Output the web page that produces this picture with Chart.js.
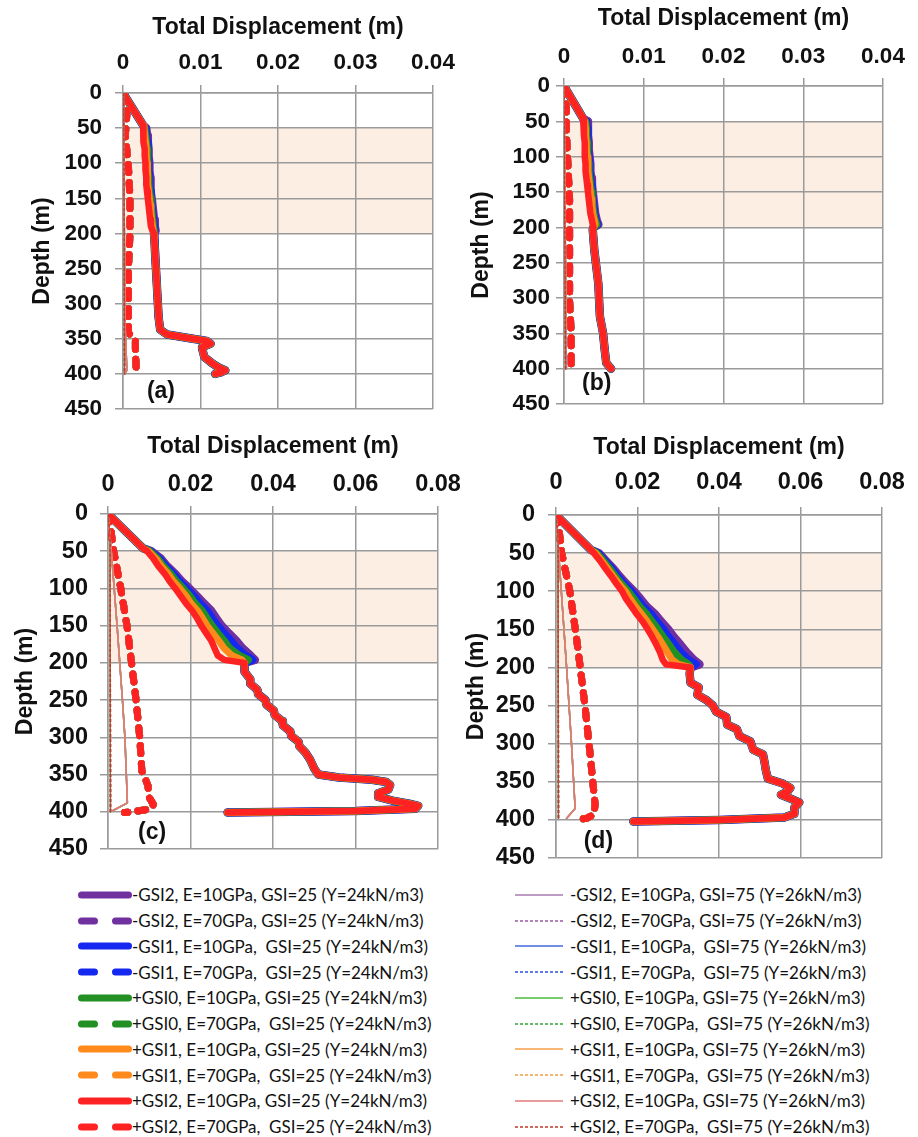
<!DOCTYPE html>
<html>
<head>
<meta charset="utf-8">
<script src="https://cdn.jsdelivr.net/npm/chart.js@4.4.0/dist/chart.umd.min.js"></script>
<style>
body{margin:0;background:#fff;width:918px;height:1137px;position:relative;overflow:hidden}
canvas{position:absolute}
.leg{position:absolute;font-family:Lato,"Open Sans",sans-serif;font-size:17px;color:#111}
.row{display:flex;align-items:center;height:25.75px;white-space:pre}
.row svg{flex:none}
</style>
</head>
<body>
<canvas id="pa" width="460" height="425" style="left:0;top:0"></canvas>
<canvas id="pb" width="458" height="425" style="left:460px;top:0"></canvas>
<canvas id="pc" width="460" height="440" style="left:0;top:430px"></canvas>
<canvas id="pd" width="458" height="440" style="left:460px;top:430px"></canvas>
<div class="leg" id="leg25" style="left:76px;top:882px"></div>
<div class="leg" id="leg75" style="left:515px;top:882px"></div>
<script>
// legend text, both columns
const labels25 = [
  '-GSI2, E=10GPa, GSI=25 (Y=24kN/m3)',
  '-GSI2, E=70GPa, GSI=25 (Y=24kN/m3)',
  '-GSI1, E=10GPa,  GSI=25 (Y=24kN/m3)',
  '-GSI1, E=70GPa,  GSI=25 (Y=24kN/m3)',
  '+GSI0, E=10GPa, GSI=25 (Y=24kN/m3)',
  '+GSI0, E=70GPa,  GSI=25 (Y=24kN/m3)',
  '+GSI1, E=10GPa, GSI=25 (Y=24kN/m3)',
  '+GSI1, E=70GPa,  GSI=25 (Y=24kN/m3)',
  '+GSI2, E=10GPa, GSI=25 (Y=24kN/m3)',
  '+GSI2, E=70GPa,  GSI=25 (Y=24kN/m3)'
];
const labels75 = [
  '-GSI2, E=10GPa, GSI=75 (Y=26kN/m3)',
  '-GSI2, E=70GPa, GSI=75 (Y=26kN/m3)',
  '-GSI1, E=10GPa,  GSI=75 (Y=26kN/m3)',
  '-GSI1, E=70GPa,  GSI=75 (Y=26kN/m3)',
  '+GSI0, E=10GPa, GSI=75 (Y=26kN/m3)',
  '+GSI0, E=70GPa,  GSI=75 (Y=26kN/m3)',
  '+GSI1, E=10GPa, GSI=75 (Y=26kN/m3)',
  '+GSI1, E=70GPa,  GSI=75 (Y=26kN/m3)',
  '+GSI2, E=10GPa, GSI=75 (Y=26kN/m3)',
  '+GSI2, E=70GPa,  GSI=75 (Y=26kN/m3)'
];
const colors25 = ['#7030a0', '#1428f0', '#239023', '#ff8a1c', '#ff2222'];
const colors75 = ['#a77bb0', '#9b59a5', '#4169e1', '#2a4fe0', '#4cbb3c', '#2fa82f', '#f5a04a', '#f0a040', '#e07a7a', '#c0392b'];
const thickW = [8.5, 8, 7.5, 7, 6.5];

const xTitle = 'Total Displacement (m)';
const yTitle = 'Depth (m)';
const bandFrom = 50, bandTo = 200;
// depths shared by the spread-out part of the E=10GPa, GSI=25 curves
const bandDepth = [50,60,70,80,90,100,110,120,130,140,150,160,170,180,190,196];

// ---- (a)
const aTopD = [0, 46], aTopX = [0, 0.0026];
const aBandPurple = [0.0030,0.0031,0.0032,0.0033,0.0033,0.0034,0.0034,0.0035,0.0035,0.0036,0.0037,0.0038,0.0039,0.0040,0.0041,0.0042];
const aBandBlue   = [0.0029,0.0030,0.0031,0.0032,0.0032,0.0033,0.0033,0.0034,0.0034,0.0035,0.0036,0.0037,0.0038,0.0039,0.0040,0.0041];
const aBandGreen  = [0.0028,0.0029,0.0030,0.0031,0.0031,0.0032,0.0032,0.0033,0.0033,0.0034,0.0035,0.0036,0.0037,0.0038,0.0039,0.0040];
const aBandOrange = [0.0027,0.0028,0.0029,0.0030,0.0030,0.0031,0.0031,0.0032,0.0032,0.0033,0.0034,0.0035,0.0036,0.0037,0.0038,0.0039];
const aBandRed    = [0.0026,0.0026,0.0027,0.0028,0.0028,0.0029,0.0029,0.0030,0.0030,0.0031,0.0032,0.0033,0.0034,0.0035,0.0036,0.0038];
const aLowD = [200,240,280,320,337,344,350,353,357,362,368,376,384,390,395,398,400];
const aLowX = [0.0040,0.0042,0.0044,0.0046,0.0048,0.0057,0.0090,0.0108,0.0113,0.0102,0.0103,0.0105,0.0114,0.0122,0.0132,0.0126,0.0119];
const aDashD = [0,30,60,105,150,200,250,300,342,350,370,390,400];
const aDashX = [0.0001,0.0005,0.0003,0.0007,0.0009,0.0009,0.0007,0.0007,0.0007,0.0016,0.0016,0.0017,0.0015];
const aThinD = [0,340,395,400], aThinX = [0,0.0003,0.0005,0.0002];
const aDotD = [0,400], aDotX = [0.0001,0.0002];

// ---- (b)
const bTopD = [0, 46], bTopX = [0, 0.0024];
const bBandPurple = [0.0029,0.0030,0.0030,0.0031,0.0031,0.0032,0.0033,0.0033,0.0034,0.0035,0.0036,0.0037,0.0038,0.0039,0.0041,0.0043];
const bBandBlue   = [0.0028,0.0029,0.0029,0.0030,0.0030,0.0031,0.0032,0.0032,0.0033,0.0034,0.0035,0.0036,0.0037,0.0038,0.0040,0.0042];
const bBandGreen  = [0.0027,0.0028,0.0028,0.0029,0.0029,0.0030,0.0031,0.0031,0.0032,0.0033,0.0034,0.0035,0.0036,0.0037,0.0039,0.0041];
const bBandOrange = [0.0026,0.0027,0.0027,0.0028,0.0028,0.0029,0.0030,0.0030,0.0031,0.0032,0.0033,0.0034,0.0035,0.0036,0.0038,0.0039];
const bBandRed    = [0.0025,0.0025,0.0025,0.0026,0.0026,0.0026,0.0027,0.0027,0.0028,0.0029,0.0030,0.0031,0.0032,0.0033,0.0035,0.0036];
const bLowD = [200,203,232,279,326,350,373,392,400];
const bLowX = [0.0037,0.0036,0.0038,0.0043,0.0045,0.0049,0.0051,0.0053,0.0059];
const bDashD = [0,34,67,114,161,208,255,303,350,396,400];
const bDashX = [0.0001,0.0003,0.0003,0.0005,0.0007,0.0007,0.0007,0.0007,0.0009,0.0009,0.0007];
const bThinD = [0,400], bThinX = [0,0.0003];
const bDotD = [0,400], bDotX = [0,0.0002];

// ---- (c)
const cTopD = [0, 46], cTopX = [0, 0.0085];
const cBandPurple = [0.0105,0.0128,0.0143,0.0162,0.0178,0.0197,0.0215,0.0232,0.0250,0.0262,0.0275,0.0292,0.0310,0.0325,0.0345,0.0356];
const cBandBlue   = [0.0103,0.0124,0.0139,0.0157,0.0172,0.0190,0.0207,0.0222,0.0240,0.0252,0.0265,0.0280,0.0297,0.0312,0.0333,0.0350];
const cBandGreen  = [0.0101,0.0120,0.0134,0.0151,0.0165,0.0182,0.0198,0.0211,0.0228,0.0240,0.0252,0.0266,0.0281,0.0294,0.0318,0.0340];
const cBandOrange = [0.0098,0.0116,0.0129,0.0145,0.0158,0.0174,0.0189,0.0201,0.0217,0.0229,0.0240,0.0254,0.0268,0.0281,0.0300,0.0325];
const cBandRed    = [0.0095,0.0110,0.0122,0.0137,0.0149,0.0163,0.0176,0.0189,0.0204,0.0216,0.0226,0.0238,0.0250,0.0258,0.0266,0.0282];
const cLowD = [200,212,222,228,236,242,250,256,264,270,278,284,292,298,306,312,320,330,342,350,354,357,360,364,370,375,380,385,389,392,396,399,401];
const cLowX = [0.0330,0.0331,0.0345,0.0345,0.0362,0.0364,0.0382,0.0384,0.0402,0.0404,0.0422,0.0424,0.0442,0.0444,0.0462,0.0464,0.0478,0.0490,0.0500,0.0510,0.0560,0.0640,0.0675,0.0684,0.0680,0.0655,0.0655,0.0690,0.0730,0.0752,0.0745,0.0600,0.0290];
const cDashD = [0,25,45,100,150,195,250,300,345,355,365,380,390,396,400,401];
const cDashX = [0,0.0008,0.0012,0.0031,0.0046,0.0056,0.0068,0.0077,0.0082,0.0090,0.0097,0.0099,0.0110,0.0105,0.0060,0.0040];
const cThinD = [0,50,150,250,300,388,399], cThinX = [0,0.0008,0.0022,0.0035,0.0041,0.0047,0.0010];
const cDotD = [0,30,400], cDotX = [0,0.0005,0.0006];

// ---- (d)
const dTopD = [0, 46], dTopX = [0, 0.0086];
const dBandPurple = [0.0105,0.0122,0.0140,0.0155,0.0172,0.0191,0.0207,0.0222,0.0243,0.0258,0.0275,0.0289,0.0305,0.0320,0.0338,0.0352];
const dBandBlue   = [0.0103,0.0119,0.0136,0.0150,0.0166,0.0184,0.0199,0.0213,0.0233,0.0247,0.0263,0.0276,0.0291,0.0305,0.0325,0.0343];
const dBandGreen  = [0.0100,0.0116,0.0131,0.0145,0.0160,0.0177,0.0191,0.0205,0.0222,0.0236,0.0250,0.0263,0.0277,0.0290,0.0308,0.0325];
const dBandOrange = [0.0097,0.0112,0.0126,0.0140,0.0154,0.0170,0.0182,0.0195,0.0210,0.0224,0.0237,0.0250,0.0262,0.0273,0.0285,0.0300];
const dBandRed    = [0.0093,0.0108,0.0121,0.0135,0.0148,0.0162,0.0172,0.0185,0.0198,0.0213,0.0225,0.0236,0.0246,0.0255,0.0262,0.0270];
const dLowD = [200,208,220,226,236,243,250,258,265,275,281,290,297,308,314,325,335,346,352,358,363,367,372,377,384,392,397,400,402];
const dLowX = [0.0330,0.0328,0.0330,0.0350,0.0347,0.0370,0.0385,0.0393,0.0418,0.0420,0.0444,0.0450,0.0477,0.0484,0.0508,0.0512,0.0515,0.0520,0.0555,0.0575,0.0568,0.0552,0.0575,0.0597,0.0585,0.0585,0.0560,0.0400,0.0190];
const dDashD = [0,22,50,100,160,198,250,315,359,380,393,398,400];
const dDashX = [0,0.0008,0.0014,0.0034,0.0050,0.0059,0.0071,0.0084,0.0092,0.0096,0.0093,0.0075,0.0043];
const dThinD = [0,100,200,300,385,398], dThinX = [0,0.0013,0.0026,0.0038,0.0047,0.0026];
const dDotD = [0,30,400], dDotX = [0,0.0005,0.0006];

function pts(d, x) {
  return d.map((v, i) => ({ x: x[i], y: v }));
}

function mkSets(topD, topX, band, lowD, lowX, dashD, dashX, thinD, thinX, dotD, dotX) {
  let out = [];
  for (let i = 0; i < 5; i++) {
    out.push({
      label: labels25[2 * i],
      data: pts(topD.concat(bandDepth, lowD), topX.concat(band[i], lowX)),
      borderColor: colors25[i], borderWidth: thickW[i]
    });
    out.push({
      label: labels25[2 * i + 1],
      data: pts(dashD, dashX),
      borderColor: colors25[i], borderWidth: 7, borderDash: [8, 10]
    });
  }
  for (let i = 0; i < 5; i++) {
    out.push({
      label: labels75[2 * i],
      data: pts(thinD, thinX),
      borderColor: colors75[2 * i], borderWidth: 1.5
    });
    out.push({
      label: labels75[2 * i + 1],
      data: pts(dotD, dotX),
      borderColor: colors75[2 * i + 1], borderWidth: 1.5, borderDash: [3, 2]
    });
  }
  out.forEach((s, i) => {
    s.order = 100 - i;
    s.showLine = true;
    s.pointRadius = 0;
    s.borderCapStyle = 'round';
    s.borderJoinStyle = 'round';
    s.fill = false;
  });
  return out;
}

// shaded zone 50-200 m under the grid, and the (a)..(d) tag
const zonePlugin = {
  id: 'zone',
  beforeDraw(chart) {
    const { ctx, chartArea: a, scales } = chart;
    const y1 = scales.y.getPixelForValue(bandFrom), y2 = scales.y.getPixelForValue(bandTo);
    ctx.save();
    ctx.fillStyle = '#fdeee4';
    ctx.fillRect(a.left, y1, a.right - a.left, y2 - y1);
    ctx.restore();
  },
  afterDraw(chart, args, opts) {
    const { ctx, scales } = chart;
    ctx.save();
    ctx.font = "bold 23px 'Liberation Sans', Arial, sans-serif";
    ctx.fillStyle = '#111';
    ctx.textAlign = 'center';
    ctx.textBaseline = 'middle';
    ctx.fillText(opts.tag, scales.x.getPixelForValue(opts.tx), scales.y.getPixelForValue(opts.ty));
    ctx.restore();
  }
};

Chart.defaults.font.family = "'Liberation Sans', Arial, sans-serif";
Chart.defaults.color = '#111';

function mkPanel(id, sets, p) {
  const gridClr = '#9a9a9a';
  return new Chart(document.getElementById(id), {
    type: 'scatter',
    data: { datasets: sets },
    options: {
      responsive: false,
      animation: false,
      devicePixelRatio: 1,
      layout: { padding: { left: 0, top: 0, right: p.padR, bottom: p.padB } },
      plugins: {
        legend: { display: false },
        tooltip: { enabled: false },
        zone: { tag: p.tag, tx: p.tx, ty: p.ty }
      },
      scales: {
        x: {
          type: 'linear', position: 'top', min: 0, max: p.xMax,
          ticks: { stepSize: p.xStep, padding: p.xTickPad, font: { size: p.tickSize, weight: 'bold' },
            callback: v => v === 0 ? '0' : v.toFixed(2) },
          grid: { color: gridClr, lineWidth: 1.5, tickLength: 8, tickColor: gridClr },
          border: { color: gridClr, width: 1.5 },
          title: { display: true, text: xTitle, font: { size: 23, weight: 'bold' }, padding: { top: p.xTitlePad, bottom: 0 } },
          afterFit: s => { s.height = p.xAxisH; s.paddingLeft = 0; s.paddingRight = 0; }
        },
        y: {
          type: 'linear', reverse: true, min: 0, max: 450,
          ticks: { stepSize: 50, padding: p.yTickPad, font: { size: p.tickSize, weight: 'bold' } },
          grid: { color: gridClr, lineWidth: 1.5, tickLength: 8, tickColor: gridClr },
          border: { color: gridClr, width: 1.5 },
          title: { display: true, text: yTitle, font: { size: 23, weight: 'bold' }, padding: { top: p.yTitlePad, bottom: 0 } },
          afterFit: s => { s.width = p.yAxisW; s.paddingTop = 0; s.paddingBottom = 0; }
        }
      }
    },
    plugins: [zonePlugin]
  });
}

mkPanel('pa', mkSets(aTopD, aTopX, [aBandPurple, aBandBlue, aBandGreen, aBandOrange, aBandRed], aLowD, aLowX, aDashD, aDashX, aThinD, aThinX, aDotD, aDotX),
  { xMax: 0.04, xStep: 0.01, tickSize: 22.5, yAxisW: 123, xAxisH: 93, padR: 27, padB: 16, xTitlePad: 14, xTickPad: 9, yTitlePad: 29, yTickPad: 13, tag: '(a)', tx: 0.0049, ty: 425 });
mkPanel('pb', mkSets(bTopD, bTopX, [bBandPurple, bBandBlue, bBandGreen, bBandOrange, bBandRed], bLowD, bLowX, bDashD, bDashX, bThinD, bThinX, bDotD, bDotX),
  { xMax: 0.04, xStep: 0.01, tickSize: 22.5, yAxisW: 104, xAxisH: 86, padR: 35, padB: 21, xTitlePad: 5, xTickPad: 8, yTitlePad: 8, yTickPad: 6, tag: '(b)', tx: 0.0041, ty: 421 });
mkPanel('pc', mkSets(cTopD, cTopX, [cBandPurple, cBandBlue, cBandGreen, cBandOrange, cBandRed], cLowD, cLowX, cDashD, cDashX, cThinD, cThinX, cDotD, cDotX),
  { xMax: 0.08, xStep: 0.02, tickSize: 23.5, yAxisW: 108, xAxisH: 84, padR: 22, padB: 21, xTitlePad: 3, xTickPad: 7, yTitlePad: 12, yTickPad: 12, tag: '(c)', tx: 0.0107, ty: 428 });
mkPanel('pd', mkSets(dTopD, dTopX, [dBandPurple, dBandBlue, dBandGreen, dBandOrange, dBandRed], dLowD, dLowX, dDashD, dDashX, dThinD, dThinX, dDotD, dDotX),
  { xMax: 0.08, xStep: 0.02, tickSize: 23.5, yAxisW: 96, xAxisH: 85, padR: 36, padB: 12, xTitlePad: 4, xTickPad: 10, yTitlePad: 3, yTickPad: 13, tag: '(d)', tx: 0.0104, ty: 429 });

// legend rows
function legRows(el, labels, colorOf, thick) {
  let html = '';
  labels.forEach((t, i) => {
    const c = colorOf(i);
    const dashed = i % 2 === 1;
    let line;
    if (thick) {
      line = `<svg width="56" height="14"><line x1="5.5" y1="7" x2="52.5" y2="7" stroke="${c}" stroke-width="7" stroke-linecap="round"${dashed ? ' stroke-dasharray="13 21"' : ''}/></svg>`;
    } else {
      line = `<svg width="55" height="14"><line x1="0" y1="7" x2="48" y2="7" stroke="${c}" stroke-width="1.5"${dashed ? ' stroke-dasharray="3 2"' : ''}/></svg>`;
    }
    html += `<div class="row">${line}<span>${t}</span></div>`;
  });
  el.innerHTML = html;
}
legRows(document.getElementById('leg25'), labels25, i => colors25[Math.floor(i / 2)], true);
legRows(document.getElementById('leg75'), labels75, i => colors75[i], false);
</script>
</body>
</html>
